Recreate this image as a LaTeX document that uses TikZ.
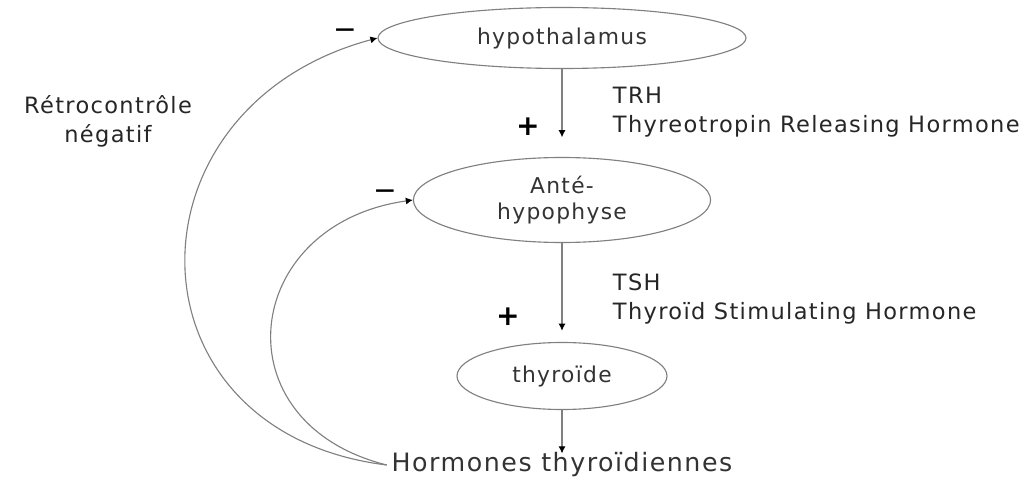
\documentclass[tikz,border=0pt]{standalone}
\usepackage{fontspec}
\setmainfont{DejaVu Sans}[LetterSpace=6]
\usetikzlibrary{shapes.geometric,arrows.meta}

\tikzset{
  organ/.style={ellipse, draw=black!50, line width=0.8pt, text=black!80, font=\fontsize{15.5}{18.5}\selectfont, inner sep=0pt},
  arr/.style={draw=black!50, line width=0.8pt, -{Latex[length=5pt,width=5pt,color=black]}},
  lbl/.style={text=black!85, font=\fontsize{16}{20.5}\selectfont, align=left, anchor=west},
  sign/.style={text=black, font=\fontsize{20}{20}\selectfont\bfseries}
}

\begin{document}
\begin{tikzpicture}
  \useasboundingbox (0,0) rectangle (25.75,12);

  % the three organs and what comes out
  \node[organ, minimum width=9.2cm, minimum height=1.525cm] (hypo) at (14.05,11.05) {hypothalamus};
  \node[organ, minimum width=7.43cm, minimum height=2.125cm, align=center] (ante) at (14.05,7) {Anté-\\hypophyse};
  \node[organ, minimum width=5.25cm, minimum height=1.675cm] (thyr) at (14.05,2.6) {thyroïde};
  \node[text=black!80, font=\fontsize{18}{22}\selectfont] (horm) at (14.05,0.375) {Hormones thyroïdiennes};

  % stimulation
  \draw[arr, shorten >=14pt] (hypo) -- (ante);
  \draw[arr, shorten >=8pt] (ante) -- (thyr);
  \draw[arr, shorten >=-4pt] (thyr) -- (horm);

  % hormone names
  \node[lbl] (trh) at (15.2,9.19) {TRH\\Thyreotropin Releasing Hormone};
  \node[lbl] (tsh) at (15.2,4.525) {TSH\\Thyroïd Stimulating Hormone};

  % signs
  \node[sign] (plusA) at (13.2,8.825) {+};
  \node[sign] (plusB) at (12.7,4.075) {+};
  \node[sign, font=\fontsize{14}{14}\selectfont\bfseries] (minusA) at (8.625,11.2) {—};
  \node[sign, font=\fontsize{14}{14}\selectfont\bfseries] (minusB) at (9.625,7.175) {—};

  % feedback loops
  \draw[arr] (horm.west) to[out=173, in=195, looseness=1.6] (hypo.west);
  \draw[arr] (horm.west) to[out=166, in=188, looseness=1.67] (ante.west);
  \node[lbl, align=center, anchor=center] (retro) at (2.7,8.975) {Rétrocontrôle\\négatif};

\end{tikzpicture}
\end{document}
